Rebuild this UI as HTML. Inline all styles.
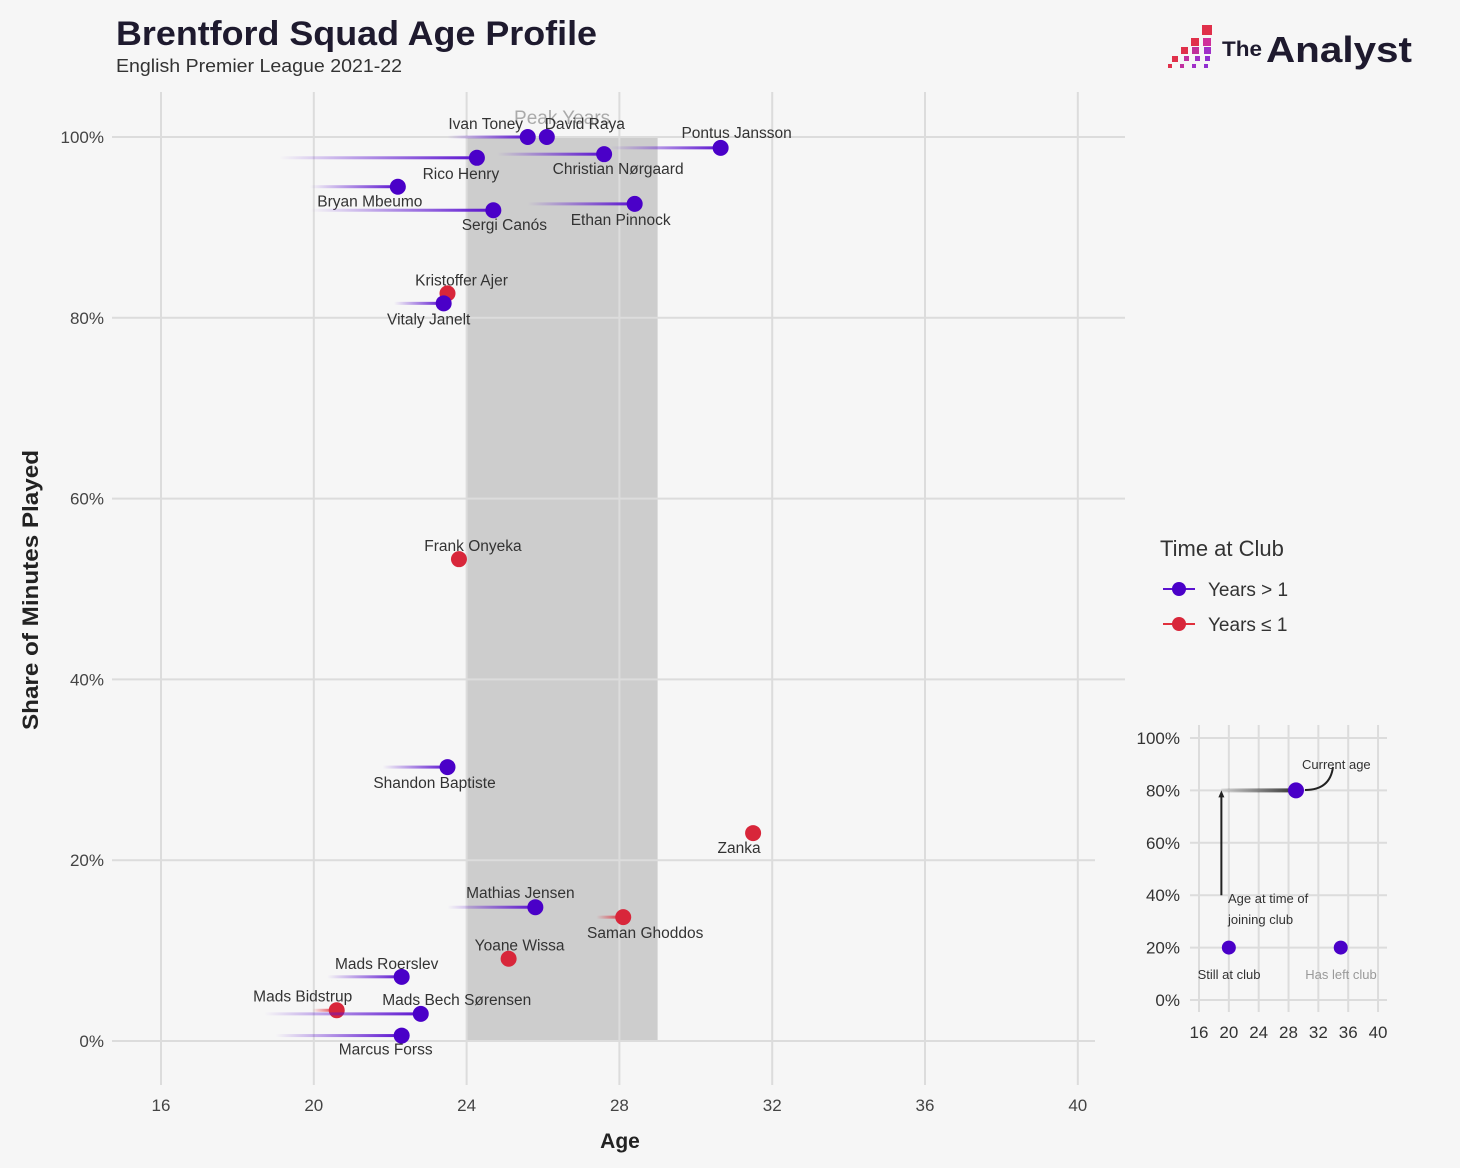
<!DOCTYPE html>
<html><head><meta charset="utf-8"><style>
body{margin:0;background:#f6f6f6;font-family:"Liberation Sans",sans-serif}
svg{display:block}
</style></head><body>
<svg id="c" width="1460" height="1168" viewBox="0 0 1460 1168">
<rect width="1460" height="1168" fill="#f6f6f6"/>
<defs>
<linearGradient id="gp" x1="0" x2="1" y1="0" y2="0"><stop offset="0" stop-color="#5b12d0" stop-opacity="0"/><stop offset="1" stop-color="#5b12d0" stop-opacity="1"/></linearGradient>
<linearGradient id="gr" x1="0" x2="1" y1="0" y2="0"><stop offset="0" stop-color="#e0303c" stop-opacity="0"/><stop offset="1" stop-color="#e0303c" stop-opacity="1"/></linearGradient>
<linearGradient id="gi" x1="0" x2="1" y1="0" y2="0"><stop offset="0" stop-color="#333" stop-opacity="0.1"/><stop offset="1" stop-color="#333" stop-opacity="1"/></linearGradient>
</defs>
<text x="116" y="45" font-size="34" font-weight="bold" fill="#1e1a2e" textLength="481" lengthAdjust="spacingAndGlyphs">Brentford Squad Age Profile</text>
<text x="116" y="72" font-size="18" fill="#333" textLength="286" lengthAdjust="spacingAndGlyphs">English Premier League 2021-22</text>
<g>
<rect x="1202" y="25" width="10" height="10" fill="#e0304a"/>
<rect x="1191" y="38" width="8" height="8" fill="#e0304a"/><rect x="1203" y="38" width="8" height="8" fill="#d0309a"/>
<rect x="1181" y="47" width="7" height="7" fill="#e0304a"/><rect x="1192" y="47" width="7" height="7" fill="#c0309a"/><rect x="1204" y="47" width="7" height="7" fill="#a030c8"/>
<rect x="1172" y="56" width="6" height="6" fill="#e0304a"/><rect x="1184" y="56" width="5" height="5" fill="#c030a0"/><rect x="1195" y="56" width="5" height="5" fill="#a030c8"/><rect x="1205" y="56" width="5" height="5" fill="#9030d0"/>
<rect x="1168" y="64" width="4" height="4" fill="#e0304a"/><rect x="1180" y="64" width="4" height="4" fill="#c030a0"/><rect x="1192" y="64" width="4" height="4" fill="#a030c8"/><rect x="1204" y="64" width="4" height="4" fill="#9030d0"/>
<text x="1222" y="56" font-size="21" font-weight="bold" fill="#1e1a2e" textLength="40" lengthAdjust="spacingAndGlyphs">The</text>
<text x="1266" y="62" font-size="36" font-weight="bold" fill="#1e1a2e" textLength="146" lengthAdjust="spacingAndGlyphs">Analyst</text>
</g>
<g id="grid"></g>
<g id="marks"></g>
<text x="620" y="1148" font-size="21" font-weight="bold" fill="#222" text-anchor="middle">Age</text>
<text transform="translate(38,590) rotate(-90)" font-size="22" font-weight="bold" fill="#222" text-anchor="middle" textLength="280" lengthAdjust="spacingAndGlyphs">Share of Minutes Played</text>
<g>
<text x="1160" y="556" font-size="22" fill="#333">Time at Club</text>
<line x1="1163" y1="589" x2="1195" y2="589" stroke="#5b12d0" stroke-width="2"/><circle cx="1179" cy="589" r="7" fill="#4a00c8"/>
<text x="1208" y="596" font-size="19" fill="#333">Years &gt; 1</text>
<line x1="1163" y1="624" x2="1195" y2="624" stroke="#e0303c" stroke-width="2"/><circle cx="1179" cy="624" r="7" fill="#d8263a"/>
<text x="1208" y="631" font-size="19" fill="#333">Years ≤ 1</text>
</g>
<g id="inset"></g>
</svg>
<script>
const names=["Ivan Toney","David Raya","Pontus Jansson","Rico Henry","Christian Nørgaard","Bryan Mbeumo","Sergi Canós","Ethan Pinnock","Kristoffer Ajer","Vitaly Janelt","Frank Onyeka","Shandon Baptiste","Zanka","Mathias Jensen","Saman Ghoddos","Yoane Wissa","Mads Roerslev","Mads Bidstrup","Mads Bech Sørensen","Marcus Forss"];
const ages=[25.6,26.1,30.65,24.27,27.6,22.2,24.7,28.4,23.5,23.4,23.8,23.5,31.5,25.8,28.1,25.1,22.3,20.6,22.8,22.3];
const joinAges=[23.5,26.1,27.75,19.1,24.8,19.9,19.9,25.6,23.5,22.1,23.8,21.8,31.5,23.5,27.4,25.1,20.35,19.96,18.7,19.0];
const shares=[100,100,98.8,97.7,98.1,94.5,91.9,92.6,82.7,81.6,53.3,30.3,23,14.8,13.7,9.1,7.1,3.4,3.0,0.6];
const shortStay=[0,0,0,0,0,0,0,0,1,0,1,0,1,0,1,1,0,1,0,0];
const xTicks=[16,20,24,28,32,36,40];
const yTicks=[0,20,40,60,80,100];
const peak=[24,29];
// label offsets (layout only)
const lblOff=[[-42,-8],[38,-8],[16,-10],[-16,21],[14,20],[-28,20],[11,20],[-14,21],[14,-8],[-15,21],[14,-8],[-13,21],[-14,20],[-15,-9],[22,21],[11,-8],[-15,-8],[-34,-9],[36,-9],[-16,19]];
const NS="http://www.w3.org/2000/svg";
const X=a=>161+(a-16)*38.2, Y=p=>1041-p*9.04;
function el(t,a,p){const e=document.createElementNS(NS,t);for(const k in a)e.setAttribute(k,a[k]);p.appendChild(e);return e;}
const grid=document.getElementById('grid'),marks=document.getElementById('marks');
const band=el('rect',{x:X(peak[0]),y:Y(100),width:X(peak[1])-X(peak[0]),height:Y(0)-Y(100),fill:'#cdcdcd'},grid);


xTicks.forEach(t=>{
 const l=el('line',{x1:X(t),x2:X(t),y1:92,y2:1085,stroke:'#dcdcdc','stroke-width':2},grid);
 
 
 const tx=el('text',{x:X(t),y:1111,'font-size':17,fill:'#444','text-anchor':'middle'},grid);tx.textContent=t;
 
 
});
yTicks.forEach(t=>{
 const l=el('line',{x1:112,x2:t<40?1095:1125,y1:Y(t),y2:Y(t),stroke:'#dcdcdc','stroke-width':2},grid);
 
 
 const tx=el('text',{x:104,y:Y(t)+6,'font-size':17,fill:'#444','text-anchor':'end'},grid);tx.textContent=t+'%';
 
 
});
const pk=el('text',{x:(X(peak[0])+X(peak[1]))/2,y:124,'font-size':19,fill:'#aaa','text-anchor':'middle'},grid);pk.textContent='Peak Years';


names.forEach((n,i)=>{
 const x=X(ages[i]),y=Y(shares[i]),x0=X(joinAges[i]);
 if(x-x0>2){const r=el('rect',{x:x0,y:y-1.5,width:x-x0,height:3,fill:shortStay[i]?'url(#gr)':'url(#gp)'},marks);
  
  }
 const c=el('circle',{cx:x,cy:y,r:8,fill:shortStay[i]?'#d8263a':'#4a00c8'},marks);
 
 
 const t=el('text',{x:x+lblOff[i][0],y:y+lblOff[i][1],'font-size':15.5,fill:'#333','text-anchor':'middle'},marks);t.textContent=n;
 
 
});
// inset
const ins=document.getElementById('inset');
const IX=a=>1199+(a-16)*7.46, IY=p=>1000-p*2.62;
xTicks.forEach(t=>{el('line',{x1:IX(t),x2:IX(t),y1:725,y2:1012,stroke:'#dcdcdc','stroke-width':2},ins);
 const tx=el('text',{x:IX(t),y:1038,'font-size':17,fill:'#333','text-anchor':'middle'},ins);tx.textContent=t;});
yTicks.forEach(t=>{el('line',{x1:1190,x2:1387,y1:IY(t),y2:IY(t),stroke:'#dcdcdc','stroke-width':2},ins);
 const tx=el('text',{x:1180,y:IY(t)+6,'font-size':17,fill:'#333','text-anchor':'end'},ins);tx.textContent=t+'%';});
el('rect',{x:IX(19),y:IY(80)-2,width:IX(29)-IX(19),height:4,fill:'url(#gi)'},ins);
el('circle',{cx:IX(29),cy:IY(80),r:8,fill:'#4a00c8'},ins);
el('line',{x1:IX(19),y1:IY(40),x2:IX(19),y2:IY(80)+6,stroke:'#222','stroke-width':2},ins);
el('path',{d:`M${IX(19)-3},${IY(80)+7} L${IX(19)},${IY(80)} L${IX(19)+3},${IY(80)+7}Z`,fill:'#222'},ins);
el('path',{d:`M1333,767 Q1330,790 1305,790`,fill:'none',stroke:'#222','stroke-width':2},ins);
el('circle',{cx:IX(20),cy:IY(20),r:7,fill:'#4a00c8'},ins);
el('circle',{cx:IX(35),cy:IY(20),r:7,fill:'#4a00c8'},ins);
[[1302,769,'Current age','#333','start'],[1228,903,'Age at time of','#333','start'],[1228,924,'joining club','#333','start'],[1229,979,'Still at club','#333','middle'],[1341,979,'Has left club','#999','middle']].forEach(a=>{
 const t=el('text',{x:a[0],y:a[1],'font-size':13,fill:a[3],'text-anchor':a[4]},ins);t.textContent=a[2];});
</script>
</body></html>
